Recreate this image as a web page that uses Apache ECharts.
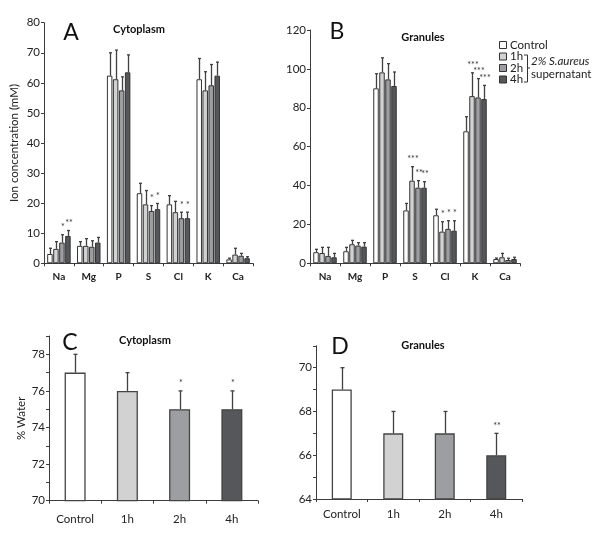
<!DOCTYPE html>
<html><head><meta charset="utf-8">
<script src="https://cdn.jsdelivr.net/npm/echarts@6/dist/echarts.min.js"></script>
<style>html,body{margin:0;padding:0;background:#fff}#c{width:600px;height:543px}</style>
</head><body><div id="c"></div>
<script>
// ---------- DATA ----------
const ions = ['Na','Mg','P','S','Cl','K','Ca'];
const seriesNames = ['Control','1h','2h','4h'];
const timeCats = ['Control','1h','2h','4h'];

// Panel A: cytoplasm ion concentration (mM)
const cytoControl = [3.1, 5.8, 62.4, 23.3, 19.6, 61.2, 1.3];
const cyto1h      = [4.8, 5.8, 61.2, 19.6, 17.0, 57.5, 2.9];
const cyto2h      = [6.9, 5.5, 57.5, 17.4, 15.0, 59.2, 2.5];
const cyto4h      = [9.1, 6.9, 63.5, 18.0, 15.0, 62.4, 1.7];
const cytoControlErr = [1.9, 1.4, 7.6, 3.3, 2.9, 6.9, 0.4];
const cyto1hErr      = [2.4, 2.4, 9.7, 4.6, 3.6, 6.2, 2.1];
const cyto2hErr      = [2.6, 2.0, 4.5, 1.8, 2.0, 6.9, 0.8];
const cyto4hErr      = [1.8, 1.7, 5.8, 1.9, 2.0, 4.5, 0.5];
const cytoStarsControl = ['','','','','','',''];
const cytoStars1h      = ['','','','','','',''];
const cytoStars2h      = ['*','','','*','*','',''];
const cytoStars4h      = ['**','','','*','*','',''];

// Panel B: granules ion concentration (mM)
const granControl = [5.7, 6.2, 90.0, 27.2, 24.7, 67.9, 2.2];
const gran1h      = [5.3, 9.8, 98.2, 42.5, 16.3, 86.0, 3.1];
const gran2h      = [3.8, 9.1, 94.6, 38.9, 17.7, 85.3, 1.7];
const gran4h      = [3.1, 8.6, 91.2, 38.9, 16.8, 84.5, 2.2];
const granControlErr = [1.5, 2.0, 7.5, 3.6, 3.1, 7.5, 0.5];
const gran1hErr      = [2.9, 2.0, 7.5, 7.2, 5.1, 12.0, 2.0];
const gran2hErr      = [4.4, 1.5, 8.1, 3.6, 4.2, 9.7, 0.9];
const gran4hErr      = [2.0, 2.0, 7.2, 3.1, 5.1, 7.0, 0.9];
const granStarsControl = ['','','','','','',''];
const granStars1h      = ['','','','***','*','***',''];
const granStars2h      = ['','','','**','*','***',''];
const granStars4h      = ['','','','**','*','***',''];

// Panel C: cytoplasm % water
const cytoWater    = [77, 76, 75, 75];
const cytoWaterErr = [1, 1, 1, 1];
const cytoWaterStars = ['', '', '*', '*'];

// Panel D: granules % water
const granWater    = [69, 67, 67, 66];
const granWaterErr = [1, 1, 1, 1];
const granWaterStars = ['', '', '', '**'];

// ---------- STYLE ----------
const FONT = 'Lato, "Open Sans", sans-serif';
const colors = ['#ffffff', '#d2d2d2', '#9c9ea1', '#55575b'];
const AX = '#3c3c3c';
const BW = 5.5, GAPF = 0.09; // bar width px, bar gap fraction

const chart = echarts.init(document.getElementById('c'), null, {renderer: 'canvas'});

function errSeries(name, gridIdx, vals, errs, stars, k, grouped, capW) {
  return {
    type: 'custom', name: name + '_err', xAxisIndex: gridIdx, yAxisIndex: gridIdx,
    silent: true, z: 5,
    data: vals.map((v, i) => [i, v, errs[i]]),
    renderItem: function (params, api) {
      const i = api.value(0), v = api.value(1), e = api.value(2);
      const p0 = api.coord([i, v]);
      const p1 = api.coord([i, v + e]);
      const off = grouped ? (k - 1.5) * (BW * (1 + GAPF)) : 0;
      const cx = Math.round(p0[0] + off) + 0.5;
      const st = stars[params.dataIndex];
      const children = [
        {type: 'line', shape: {x1: cx, y1: p0[1], x2: cx, y2: p1[1]}, style: {stroke: '#404040', lineWidth: 1.3}},
        {type: 'line', shape: {x1: cx - capW / 2, y1: p1[1], x2: cx + capW / 2, y2: p1[1]}, style: {stroke: '#404040', lineWidth: 1.3}}
      ];
      if (st) {
        children.push({type: 'text', style: {text: st, x: cx + 0.5, y: p1[1] - 3, align: 'center', verticalAlign: 'bottom',
          font: '9px ' + FONT, fill: '#333'}});
      }
      return {type: 'group', children: children};
    }
  };
}

const series = [];
const cytoVals = [cytoControl, cyto1h, cyto2h, cyto4h];
const cytoErrs = [cytoControlErr, cyto1hErr, cyto2hErr, cyto4hErr];
const cytoStars = [cytoStarsControl, cytoStars1h, cytoStars2h, cytoStars4h];
const granVals = [granControl, gran1h, gran2h, gran4h];
const granErrs = [granControlErr, gran1hErr, gran2hErr, gran4hErr];
const granStars = [granStarsControl, granStars1h, granStars2h, granStars4h];

seriesNames.forEach((nm, k) => {
  series.push({type: 'bar', name: nm, xAxisIndex: 0, yAxisIndex: 0, data: cytoVals[k],
    barWidth: BW, barGap: (GAPF * 100) + '%',
    itemStyle: {color: colors[k], borderColor: '#333', borderWidth: 1}});
});
seriesNames.forEach((nm, k) => {
  series.push({type: 'bar', name: nm, xAxisIndex: 1, yAxisIndex: 1, data: granVals[k],
    barWidth: BW, barGap: (GAPF * 100) + '%',
    itemStyle: {color: colors[k], borderColor: '#333', borderWidth: 1}});
});
seriesNames.forEach((nm, k) => {
  series.push(errSeries(nm + 'A', 0, cytoVals[k], cytoErrs[k], cytoStars[k], k, true, 3));
  series.push(errSeries(nm + 'B', 1, granVals[k], granErrs[k], granStars[k], k, true, 3));
});
series.push({type: 'bar', name: 'waterC', xAxisIndex: 2, yAxisIndex: 2, barWidth: 21,
  data: cytoWater.map((v, i) => ({value: v, itemStyle: {color: colors[i]}})),
  itemStyle: {borderColor: '#444', borderWidth: 1.3}});
series.push({type: 'bar', name: 'waterD', xAxisIndex: 3, yAxisIndex: 3, barWidth: 20,
  data: granWater.map((v, i) => ({value: v, itemStyle: {color: colors[i]}})),
  itemStyle: {borderColor: '#444', borderWidth: 1.3}});
series.push(errSeries('C', 2, cytoWater, cytoWaterErr, cytoWaterStars, 0, false, 4));
series.push(errSeries('D', 3, granWater, granWaterErr, granWaterStars, 0, false, 4));

function xAx(gridIndex, cats, labelOpts) {
  return {
    type: 'category', gridIndex: gridIndex, data: cats,
    axisLine: {lineStyle: {color: AX, width: 1}},
    axisTick: {show: true, length: 3, lineStyle: {color: AX}},
    axisLabel: Object.assign({color: '#222', fontFamily: FONT}, labelOpts),
    splitLine: {show: false}
  };
}
function yAx(gridIndex, min, max, interval, minor, name, nameGap) {
  return {
    type: 'value', gridIndex: gridIndex, min: min, max: max, interval: interval,
    name: name, nameLocation: 'middle', nameGap: nameGap,
    nameTextStyle: {fontFamily: FONT, fontSize: 11.5, color: '#222'},
    axisLine: {show: true, lineStyle: {color: AX, width: 1}},
    axisTick: {show: true, length: 3, lineStyle: {color: AX}},
    minorTick: {show: minor, splitNumber: 2, length: 3, lineStyle: {color: AX}},
    axisLabel: {fontFamily: FONT, fontSize: 11.5, color: '#222', margin: 4, showMaxLabel: max % interval === 0},
    splitLine: {show: false}
  };
}

// legend drawn as graphic (boxes + names from seriesNames / colors)
const legendGraphics = [];
seriesNames.forEach((nm, k) => {
  const cy = 45 + k * 11.5;
  legendGraphics.push({type: 'rect', shape: {x: 499.5, y: cy - 3.5, width: 7, height: 7},
    style: {fill: colors[k], stroke: '#333', lineWidth: 1}});
  legendGraphics.push({type: 'text', style: {text: nm, x: 510, y: cy, align: 'left', verticalAlign: 'middle',
    font: '11.5px ' + FONT, fill: '#222'}});
});

const option = {
  animation: false,
  backgroundColor: '#fff',
  grid: [
    {left: 44, top: 22.7, width: 209, height: 240.6},
    {left: 310, top: 30, width: 210, height: 233.3},
    {left: 49, top: 336, width: 209, height: 164.7},
    {left: 316, top: 345.8, width: 206, height: 153.2}
  ],
  xAxis: [
    xAx(0, ions, {fontWeight: 'bold', fontSize: 10, margin: 8}),
    xAx(1, ions, {fontWeight: 'bold', fontSize: 10, margin: 8}),
    xAx(2, timeCats, {fontSize: 11.5, margin: 13}),
    xAx(3, timeCats, {fontSize: 11.5, margin: 9})
  ],
  yAxis: [
    yAx(0, 0, 80, 10, false, 'Ion concentration (mM)', 24),
    yAx(1, 0, 120, 20, false, '', 30),
    yAx(2, 70, 79, 2, true, '% Water', 22),
    yAx(3, 64, 71, 2, true, '', 30)
  ],
  graphic: legendGraphics.concat([
    {type: 'text', style: {text: 'A', x: 71, y: 33, align: 'center', verticalAlign: 'middle', font: '23px ' + FONT, fill: '#111'}},
    {type: 'text', style: {text: 'Cytoplasm', x: 139, y: 29, align: 'center', verticalAlign: 'middle', font: 'bold 11px ' + FONT, fill: '#111'}},
    {type: 'text', style: {text: 'B', x: 337, y: 32, align: 'center', verticalAlign: 'middle', font: '23px ' + FONT, fill: '#111'}},
    {type: 'text', style: {text: 'Granules', x: 423, y: 37, align: 'center', verticalAlign: 'middle', font: 'bold 11px ' + FONT, fill: '#111'}},
    {type: 'text', style: {text: 'C', x: 70, y: 343, align: 'center', verticalAlign: 'middle', font: '23px ' + FONT, fill: '#111'}},
    {type: 'text', style: {text: 'Cytoplasm', x: 145, y: 340, align: 'center', verticalAlign: 'middle', font: 'bold 11px ' + FONT, fill: '#111'}},
    {type: 'text', style: {text: 'D', x: 340, y: 347, align: 'center', verticalAlign: 'middle', font: '23px ' + FONT, fill: '#111'}},
    {type: 'text', style: {text: 'Granules', x: 423, y: 345, align: 'center', verticalAlign: 'middle', font: 'bold 11px ' + FONT, fill: '#111'}},
    {type: 'polyline', shape: {points: [[524, 55], [527.5, 55], [527.5, 82], [524, 82]]}, style: {stroke: '#333', lineWidth: 1, fill: null}},
    {type: 'line', shape: {x1: 527.5, y1: 68, x2: 530, y2: 68}, style: {stroke: '#333', lineWidth: 1}},
    {type: 'text', style: {text: '2% S.aureus', x: 531, y: 61.5, align: 'left', verticalAlign: 'middle', font: 'italic 11.5px ' + FONT, fill: '#222'}},
    {type: 'text', style: {text: 'supernatant', x: 531, y: 74, align: 'left', verticalAlign: 'middle', font: '11.5px ' + FONT, fill: '#222'}}
  ]),
  series: series
};
chart.setOption(option);
</script>
</body></html>
